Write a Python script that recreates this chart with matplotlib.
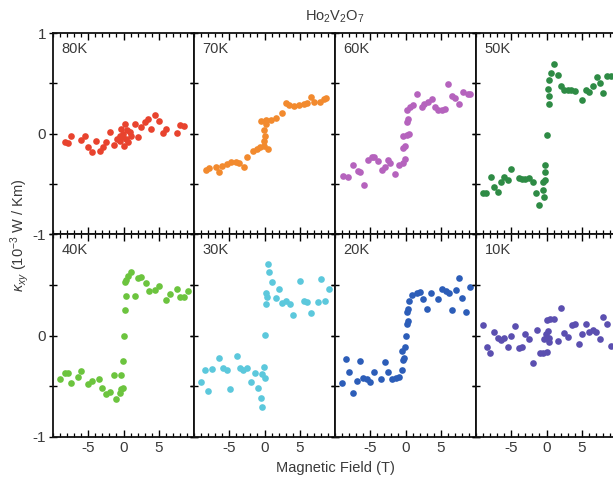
import matplotlib
matplotlib.use("Agg")
import matplotlib.pyplot as plt
from matplotlib.ticker import MultipleLocator, FixedLocator

plt.rcParams['font.family'] = ['Liberation Sans', 'DejaVu Sans']
plt.rcParams['mathtext.fontset'] = 'custom'
plt.rcParams['mathtext.rm'] = 'Liberation Sans'
plt.rcParams['mathtext.it'] = 'Liberation Sans:italic'
plt.rcParams['axes.unicode_minus'] = False

labels = ["80K", "70K", "60K", "50K", "40K", "30K", "20K", "10K"]
colors = ["#e8432e", "#f28a2e", "#b563bd", "#2e8b45", "#6cc43e", "#5cc8dc", "#2c5db8", "#5b4fb0"]

x80 = [-8.35, -7.87, -7.40, -5.98, -5.51, -5.04, -4.42, -3.95, -3.38, -2.91, -2.44, -1.87, -1.39, -0.92, -0.54, -0.54, -0.31, -0.17, -0.07, 0.02, 0.17, 0.31, 0.50, 0.64, 0.87, 1.11, 1.58, 2.06, 2.53, 3.00, 3.48, 3.95, 4.42, 5.04, 5.60, 6.08, 7.59, 8.06, 8.53]
y80 = [-0.087, -0.097, -0.02, -0.063, -0.027, -0.137, -0.187, -0.07, -0.177, -0.137, -0.087, 0.013, -0.11, -0.053, -0.02, -0.07, 0.047, -0.037, -0.003, -0.12, 0.097, -0.053, 0.03, -0.087, 0.013, -0.02, 0.097, -0.037, 0.063, 0.113, 0.147, 0.047, 0.18, 0.123, 0.003, 0.047, 0.003, 0.08, 0.073]

x70 = [-8.35, -7.87, -6.93, -6.45, -5.98, -5.37, -4.70, -4.09, -3.62, -2.91, -2.44, -1.58, -1.11, -0.64, -0.07, 0.50, -0.07, 0.02, -0.07, 0.17, -0.54, 0.17, 0.87, 1.58, 2.53, 3.00, 3.48, 4.18, 4.89, 5.60, 6.08, 6.55, 7.02, 7.87, 8.44, 8.67]
y70 = [-0.363, -0.343, -0.33, -0.387, -0.32, -0.303, -0.287, -0.287, -0.297, -0.33, -0.23, -0.17, -0.153, -0.137, -0.12, -0.153, -0.07, -0.02, 0.03, 0.097, 0.123, 0.13, 0.13, 0.157, 0.207, 0.303, 0.28, 0.27, 0.28, 0.29, 0.303, 0.363, 0.313, 0.313, 0.347, 0.357]

x60 = [-8.82, -8.11, -7.40, -6.78, -6.45, -5.84, -5.37, -4.80, -4.42, -3.95, -3.38, -2.91, -2.53, -2.20, -1.49, -0.92, -0.31, -0.07, -0.31, -0.07, -0.31, 0.17, 0.50, 0.17, 0.40, 0.17, 0.64, 1.11, 1.58, 2.39, 2.67, 3.14, 3.71, 4.18, 4.66, 5.13, 5.60, 6.08, 6.55, 7.02, 7.59, 8.20, 8.82, 9.15]
y60 = [-0.42, -0.43, -0.31, -0.37, -0.387, -0.51, -0.26, -0.237, -0.23, -0.277, -0.363, -0.33, -0.263, -0.297, -0.403, -0.31, -0.297, -0.253, -0.143, -0.12, -0.02, -0.01, -0.003, 0.113, 0.147, 0.23, 0.263, 0.28, 0.39, 0.263, 0.297, 0.313, 0.347, 0.263, 0.23, 0.23, 0.247, 0.49, 0.37, 0.357, 0.29, 0.413, 0.397, 0.39]

x50 = [-9.05, -8.58, -7.87, -7.40, -6.93, -6.45, -5.98, -5.51, -5.04, -3.95, -3.48, -3.00, -2.53, -1.96, -1.49, -1.02, -0.54, -0.31, -0.54, -0.17, -0.17, -0.17, 0.02, 0.31, 0.40, 0.17, 0.40, 0.64, 1.11, 1.58, 2.06, 2.53, 3.00, 3.48, 4.09, 5.04, 5.60, 6.08, 6.55, 7.12, 7.59, 8.06, 8.53, 9.15]
y50 = [-0.597, -0.597, -0.43, -0.53, -0.587, -0.487, -0.437, -0.463, -0.353, -0.443, -0.453, -0.453, -0.443, -0.487, -0.597, -0.71, -0.563, -0.63, -0.487, -0.463, -0.387, -0.31, -0.01, 0.297, 0.37, 0.447, 0.537, 0.603, 0.69, 0.58, 0.47, 0.43, 0.437, 0.437, 0.423, 0.337, 0.437, 0.413, 0.47, 0.563, 0.503, 0.403, 0.57, 0.57]

x40 = [-9.05, -8.35, -7.87, -7.40, -6.45, -5.98, -5.04, -4.42, -3.48, -3.00, -2.43, -1.87, -1.02, -0.54, -0.31, -0.07, -1.39, -0.31, -0.07, 0.02, 0.17, 0.31, 1.58, 0.17, 0.40, 0.64, 1.11, 2.06, 2.53, 3.14, 3.62, 4.42, 5.04, 6.08, 6.55, 7.59, 8.06, 8.53, 9.15]
y40 = [-0.432, -0.373, -0.373, -0.465, -0.406, -0.35, -0.482, -0.449, -0.432, -0.515, -0.581, -0.558, -0.624, -0.564, -0.531, -0.515, -0.393, -0.393, -0.251, -0.003, 0.254, 0.386, 0.393, 0.525, 0.551, 0.591, 0.624, 0.564, 0.574, 0.518, 0.436, 0.452, 0.485, 0.353, 0.409, 0.459, 0.376, 0.376, 0.442]

x30 = [-8.96, -8.49, -8.01, -7.40, -6.45, -5.84, -5.37, -4.89, -3.95, -3.48, -3.00, -2.53, -1.96, -1.39, -0.92, -0.45, -0.31, -0.31, -0.07, 0.02, 0.02, 0.17, 0.17, 0.40, 0.50, 0.64, 1.11, 1.58, 2.06, 2.53, 3.00, 3.62, 4.09, 5.04, 5.60, 6.08, 6.55, 7.59, 8.06, 8.53, 9.15]
y30 = [-0.455, -0.343, -0.548, -0.333, -0.224, -0.323, -0.343, -0.531, -0.201, -0.317, -0.343, -0.323, -0.455, -0.366, -0.521, -0.62, -0.706, -0.376, -0.31, -0.416, 0.003, 0.31, 0.416, 0.383, 0.706, 0.624, 0.525, 0.366, 0.459, 0.317, 0.337, 0.31, 0.205, 0.535, 0.337, 0.327, 0.221, 0.327, 0.558, 0.343, 0.459]

x20 = [-8.96, -8.49, -8.01, -7.40, -6.93, -6.45, -5.98, -5.51, -5.04, -4.42, -3.48, -2.91, -2.43, -1.87, -1.39, -0.92, -0.45, -0.31, -0.17, -0.45, -0.07, 0.02, 0.17, 0.31, 0.17, 0.31, 0.50, 0.97, 1.58, 2.06, 2.53, 3.00, 3.62, 4.56, 5.13, 5.70, 6.17, 6.55, 7.12, 7.59, 8.06, 8.53, 9.15]
y20 = [-0.472, -0.228, -0.36, -0.564, -0.449, -0.251, -0.416, -0.432, -0.459, -0.36, -0.426, -0.261, -0.36, -0.426, -0.416, -0.406, -0.34, -0.241, -0.218, -0.152, -0.109, -0.003, 0.112, 0.145, 0.228, 0.261, 0.343, 0.399, 0.419, 0.426, 0.36, 0.261, 0.419, 0.36, 0.459, 0.442, 0.419, 0.254, 0.452, 0.564, 0.366, 0.234, 0.475]

x10 = [-8.96, -8.49, -8.01, -7.40, -6.93, -6.45, -5.98, -5.51, -5.04, -4.42, -3.95, -3.48, -3.00, -2.53, -1.96, -1.39, -0.92, -0.45, 0.02, -0.07, -0.31, 0.17, 0.31, 0.40, 0.02, 0.50, 1.11, 1.58, 2.06, 2.53, 3.00, 3.62, 4.09, 4.56, 5.04, 5.60, 6.08, 6.55, 7.02, 7.59, 8.06, 8.53, 9.15]
y10 = [0.102, -0.109, -0.168, 0.036, -0.02, -0.043, -0.02, -0.109, -0.003, 0.089, -0.119, -0.109, 0.013, -0.03, -0.267, 0.056, -0.168, -0.168, -0.162, 0.013, -0.036, 0.046, -0.02, -0.063, 0.155, 0.162, 0.162, -0.053, 0.267, 0.023, -0.01, 0.102, 0.112, -0.086, 0.013, 0.112, 0.03, 0.056, 0.03, -0.036, 0.178, 0.112, -0.102]

xs = [x80, x70, x60, x50, x40, x30, x20, x10]
ys = [y80, y70, y60, y50, y40, y30, y20, y10]

W, H = 613, 480
fig = plt.figure(figsize=(W / 100, H / 100), dpi=100)

left_px = 53
pw = 141
rows = [(33, 234), (234, 437)]
txt = "#3a3a3a"

for i in range(8):
    r, c = divmod(i, 4)
    top, bot = rows[r]
    ax = fig.add_axes([(left_px + c * pw) / W, 1 - bot / H, pw / W, (bot - top) / H])
    ax.plot(xs[i], ys[i], 'o', color=colors[i], ms=4.8, mec='none')
    ax.set_xlim(-10, 10)
    ax.set_ylim(-1, 1)
    ax.xaxis.set_major_locator(FixedLocator([-5, 0, 5]))
    ax.xaxis.set_minor_locator(MultipleLocator(1))
    ax.yaxis.set_major_locator(FixedLocator([-1, -0.5, 0, 0.5, 1]))
    ax.tick_params(axis='x', which='major', direction='in', length=5, width=1, top=True, bottom=True,
                   labelsize=11, labelcolor=txt, pad=3)
    ax.tick_params(axis='x', which='minor', direction='in', length=3, width=0.9, top=True, bottom=True)
    ax.tick_params(axis='y', which='major', direction='inout', length=6, width=1, left=True, right=True,
                   labelsize=11, labelcolor=txt, pad=2)
    for s in ax.spines.values():
        s.set_linewidth(1.3)
        s.set_color('#111111')
    if r == 0:
        ax.set_xticklabels([])
    if c == 0:
        if r == 0:
            ax.set_yticklabels(['-1', '', '0', '', '1'])
        else:
            ax.set_yticklabels(['-1', '', '0', '', ''])
    else:
        ax.set_yticklabels([])
    ax.text(0.06, 0.955, labels[i], transform=ax.transAxes, ha='left', va='top',
            fontsize=10.5, color=txt)

cx = (left_px + 2 * pw) / W
fig.text(cx, 1 - 17 / H, r'Ho$_2$V$_2$O$_7$', ha='center', va='center', fontsize=10.5, color=txt)
fig.text(cx, 1 - 468 / H, 'Magnetic Field (T)', ha='center', va='center', fontsize=10.5, color=txt)
fig.text(20 / W, 1 - 235 / H, r'$\kappa_{xy}$ (10$^{-3}$ W / Km)', ha='center', va='center',
         rotation=90, fontsize=10.5, color=txt)

fig.savefig('out.png', dpi=100)
